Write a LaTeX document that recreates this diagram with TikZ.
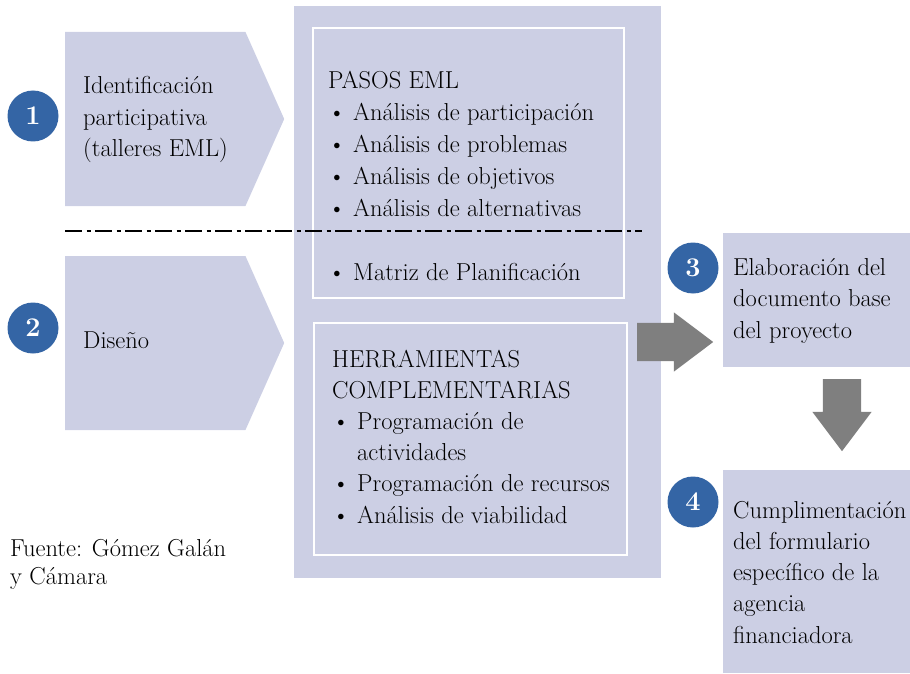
\documentclass[tikz,border=0pt]{standalone}
\usetikzlibrary{shapes.symbols,shapes.arrows}
\definecolor{panelblue}{RGB}{204,207,228}
\definecolor{dotblue}{RGB}{52,101,165}
\definecolor{arrowgray}{RGB}{127,127,127}
\tikzset{
  chevron/.style={signal, signal to=east, fill=panelblue, inner sep=0pt, anchor=west,
    minimum width=219pt, minimum height=174pt, signal pointer angle=132},
  numdot/.style={circle, fill=dotblue, text=white, inner sep=0pt,
    minimum size=51pt, font=\fontsize{27}{27}\selectfont\bfseries},
  panel/.style={rectangle, fill=panelblue, inner sep=0pt},
  whiteframe/.style={rectangle, draw=white, line width=2pt, inner sep=0pt},
  bodytext/.style={align=left, inner sep=0pt, anchor=base west,
    font=\fontsize{24.5}{31.5}\selectfont},
  blockarrow/.style={single arrow, fill=arrowgray, inner xsep=0pt, inner ysep=19pt,
    single arrow head extend=10.5pt, single arrow tip angle=74, anchor=tail},
  sepline/.style={line width=2.5pt, dash pattern=on 17pt off 4.5pt on 4pt off 4.5pt}
}
\begin{document}
\begin{tikzpicture}[x=1pt,y=-1pt]
  \useasboundingbox (0,0) rectangle (910,674);
  \node[chevron] (step1) at (65,119) {};
  \node[chevron] (step2) at (65,343) {};
  \node[panel, minimum width=367pt, minimum height=572pt] (eml) at (477.5,292) {};
  \node[whiteframe, minimum width=311pt, minimum height=270pt] (pasos) at (468.5,163) {};
  \node[whiteframe, minimum width=313pt, minimum height=232pt] (herram) at (470.5,439) {};
  \coordinate (sepL) at (65,231);
  \coordinate (sepR) at (642,231);
  \draw[sepline] (sepL) -- (sepR);
  \node[blockarrow, minimum height=76pt] (toStep3) at (637,342) {};
  \node[panel, minimum width=187pt, minimum height=134pt] (step3) at (816.5,300) {};
  \node[blockarrow, minimum height=72pt, rotate=-90] (toStep4) at (842,379) {};
  \node[panel, minimum width=187pt, minimum height=203pt] (step4) at (816.5,571.5) {};

  \node[numdot] (num1) at (33,116) {1};
  \node[numdot] (num2) at (33,328) {2};
  \node[numdot] (num3) at (693,268) {3};
  \node[numdot] (num4) at (693,502) {4};

  \node[bodytext] (step1txt) at (83,157) {Identificación\\participativa\\(talleres EML)};
  \node[bodytext] (step2txt) at (83,348) {Diseño};
  \node[bodytext, font=\fontsize{24.5}{32}\selectfont] (pasostxt) at (328,280) {PASOS EML\\
    \textbullet\ Análisis de participación\\
    \textbullet\ Análisis de problemas\\
    \textbullet\ Análisis de objetivos\\
    \textbullet\ Análisis de alternativas\\[32pt]
    \textbullet\ Matriz de Planificación};
  \node[bodytext, font=\fontsize{24.5}{31.2}\selectfont] (herramtxt) at (332,523) {HERRAMIENTAS\\
    COMPLEMENTARIAS\\
    \textbullet\ Programación de\\
    \phantom{\textbullet\ }actividades\\
    \textbullet\ Programación de recursos\\
    \textbullet\ Análisis de viabilidad};
  \node[bodytext] (step3txt) at (733,338) {Elaboración del\\documento base\\del proyecto};
  \node[bodytext, font=\fontsize{24.5}{31.25}\selectfont] (step4txt) at (733,643) {Cumplimentación\\del formulario\\específico de la\\agencia\\financiadora};
  \node[bodytext, font=\fontsize{24.5}{28}\selectfont] (source) at (10,584) {Fuente: Gómez Galán\\y Cámara};
\end{tikzpicture}
\end{document}
